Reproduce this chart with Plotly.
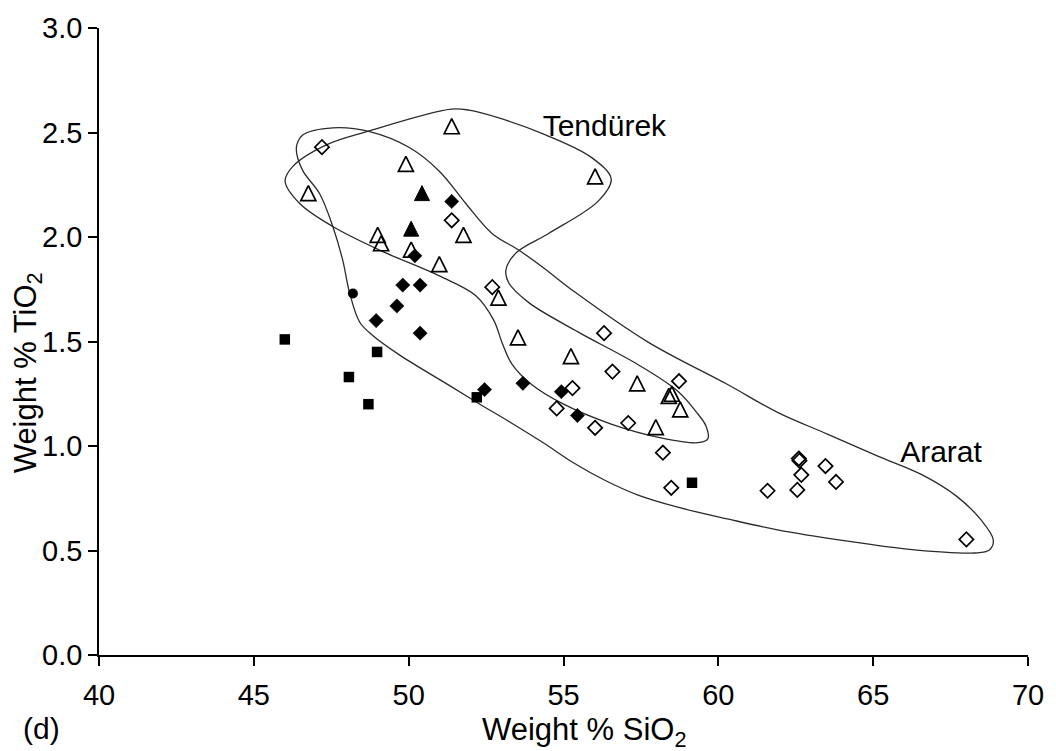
import plotly.graph_objects as go

# Tendürek lavas: open triangles
tend_open_x = [51.39, 49.91, 46.76, 51.77, 49.00, 49.11, 50.08, 50.99, 52.90, 53.53,
               55.24, 57.38, 58.40, 58.50, 58.77, 57.98, 56.02]
tend_open_y = [2.53, 2.35, 2.21, 2.01, 2.01, 1.97, 1.94, 1.87, 1.71, 1.52,
               1.43, 1.30, 1.24, 1.25, 1.175, 1.09, 2.29]

# Tendürek: filled triangles
tend_fill_x = [50.43, 50.08]
tend_fill_y = [2.21, 2.04]

# Ararat: filled diamonds
ara_fill_x = [51.39, 50.20, 49.81, 50.37, 49.62, 48.95, 50.37, 52.45, 53.69, 54.93, 55.45]
ara_fill_y = [2.17, 1.91, 1.77, 1.77, 1.67, 1.60, 1.54, 1.27, 1.30, 1.26, 1.146]

# Ararat: open diamonds
ara_open_x = [47.20, 51.39, 52.70, 56.31, 56.58, 58.73, 55.29, 54.78, 56.02, 57.09,
              58.21, 58.48, 61.59, 62.60, 62.62, 62.68, 62.55, 63.46, 63.80, 68.01]
ara_open_y = [2.43, 2.08, 1.76, 1.54, 1.356, 1.31, 1.277, 1.18, 1.087, 1.11,
              0.968, 0.80, 0.786, 0.94, 0.93, 0.862, 0.79, 0.904, 0.828, 0.553]

# Other basalts: filled squares and filled circle
sq_x = [46.00, 48.98, 48.07, 48.70, 52.20, 59.15]
sq_y = [1.51, 1.45, 1.33, 1.20, 1.233, 0.824]
circ_x = [48.20]
circ_y = [1.73]

# Field outlines (closed)
tend_field_x = [46.01, 46.49, 47.55, 49.06, 50.99, 52.17, 52.75, 53.01, 53.33, 53.97,
                54.94, 56.54, 58.15, 59.34, 59.66, 59.60, 59.34, 58.70, 57.41, 55.48,
                53.88, 53.23, 53.14, 53.46, 54.52, 56.13, 56.54, 55.90, 54.42, 52.91,
                51.95, 51.37, 48.64, 47.36, 46.26, 46.01]
tend_field_y = [2.267, 2.159, 2.050, 1.937, 1.814, 1.719, 1.601, 1.497, 1.393, 1.294,
                1.205, 1.105, 1.039, 1.016, 1.034, 1.096, 1.153, 1.261, 1.389, 1.545,
                1.686, 1.781, 1.842, 1.923, 2.017, 2.173, 2.277, 2.381, 2.489, 2.570,
                2.607, 2.612, 2.504, 2.442, 2.338, 2.267]

ara_field_x = [46.39, 46.59, 47.55, 48.74, 50.02, 50.99, 51.85, 52.69, 53.56, 54.36,
               55.39, 57.73, 60.30, 61.91, 63.52, 65.13, 66.57, 67.70, 68.49, 68.88,
               68.75, 68.27, 66.18, 64.06, 61.91, 60.30, 58.69, 57.41, 56.35, 55.32,
               54.36, 53.33, 52.30, 51.31, 49.70, 48.83, 48.42, 48.09, 47.87, 47.55,
               47.13, 46.59, 46.39, 46.39]
ara_field_y = [2.442, 2.489, 2.522, 2.504, 2.428, 2.315, 2.159, 2.017, 1.937, 1.852,
               1.734, 1.497, 1.294, 1.161, 1.057, 0.953, 0.863, 0.759, 0.645, 0.550,
               0.502, 0.488, 0.505, 0.547, 0.599, 0.651, 0.707, 0.765, 0.835, 0.920,
               1.014, 1.109, 1.200, 1.290, 1.436, 1.530, 1.592, 1.734, 1.889, 2.050,
               2.206, 2.315, 2.395, 2.442]

field_labels = ["Tendürek", "Ararat"]
field_label_x = [56.32, 67.19]
field_label_y = [2.52, 0.958]

x_ticks = [40, 45, 50, 55, 60, 65, 70]
y_ticks = [0.0, 0.5, 1.0, 1.5, 2.0, 2.5, 3.0]

FONT = "Liberation Sans, Arial, sans-serif"
INK = "black"

fig = go.Figure()

for fx, fy in [(tend_field_x, tend_field_y), (ara_field_x, ara_field_y)]:
    fig.add_trace(go.Scatter(
        x=fx, y=fy, mode="lines",
        line=dict(color="#2b2b2b", width=1.3, shape="spline", smoothing=1.0),
        hoverinfo="skip", showlegend=False,
    ))

# upward triangles: arrow glyph turned around and pushed back onto its centre
TRI = 15
tri_marker = dict(size=TRI, angle=180, standoff=TRI / 2)

fig.add_trace(go.Scatter(
    x=tend_open_x, y=tend_open_y, mode="markers", showlegend=False,
    marker=dict(symbol="arrow-down-open", color=INK, line=dict(color=INK, width=1.7), **tri_marker),
))
fig.add_trace(go.Scatter(
    x=tend_fill_x, y=tend_fill_y, mode="markers", showlegend=False,
    marker=dict(symbol="arrow-down", color=INK, line=dict(color=INK, width=1), **tri_marker),
))
fig.add_trace(go.Scatter(
    x=ara_open_x, y=ara_open_y, mode="markers", showlegend=False,
    marker=dict(symbol="diamond-open", size=11, color=INK, line=dict(color=INK, width=1.7)),
))
fig.add_trace(go.Scatter(
    x=ara_fill_x, y=ara_fill_y, mode="markers", showlegend=False,
    marker=dict(symbol="diamond", size=11, color=INK, line=dict(color=INK, width=0.5)),
))
fig.add_trace(go.Scatter(
    x=sq_x, y=sq_y, mode="markers", showlegend=False,
    marker=dict(symbol="square", size=10.5, color=INK, line=dict(width=0)),
))
fig.add_trace(go.Scatter(
    x=circ_x, y=circ_y, mode="markers", showlegend=False,
    marker=dict(symbol="circle", size=10, color=INK, line=dict(width=0)),
))

fig.add_trace(go.Scatter(
    x=field_label_x, y=field_label_y, mode="text", text=field_labels,
    textfont=dict(family=FONT, size=30, color=INK),
    hoverinfo="skip", showlegend=False,
))

axis_common = dict(
    showline=True, linecolor=INK, linewidth=1.6,
    ticks="outside", ticklen=9, tickwidth=1.6, tickcolor=INK,
    showgrid=False, zeroline=False,
    tickfont=dict(family=FONT, size=29, color=INK),
)

fig.update_layout(
    width=1056, height=751,
    margin=dict(l=99, r=24, t=22, b=96),
    paper_bgcolor="white", plot_bgcolor="white",
    font=dict(family=FONT, color=INK),
    xaxis=dict(range=[40, 70], tickvals=x_ticks, ticktext=[str(v) for v in x_ticks],
               ticklabelstandoff=4, **axis_common),
    yaxis=dict(range=[0, 3], tickvals=y_ticks, ticktext=[f"{v:.1f}" for v in y_ticks],
               **axis_common),
    annotations=[
        dict(text="Weight % SiO<sub>2</sub>", xref="paper", yref="paper",
             x=0.522, y=-0.088, xanchor="center", yanchor="top", showarrow=False,
             font=dict(family=FONT, size=31, color=INK)),
        dict(text="Weight % TiO<sub>2</sub>", xref="paper", yref="paper",
             x=-0.077, y=0.45, xanchor="center", yanchor="middle", showarrow=False,
             textangle=-90, font=dict(family=FONT, size=31, color=INK)),
        dict(text="(d)", xref="paper", yref="paper",
             x=-0.062, y=-0.087, xanchor="center", yanchor="top", showarrow=False,
             font=dict(family=FONT, size=30, color=INK)),
    ],
)

fig.write_html("out.html")
